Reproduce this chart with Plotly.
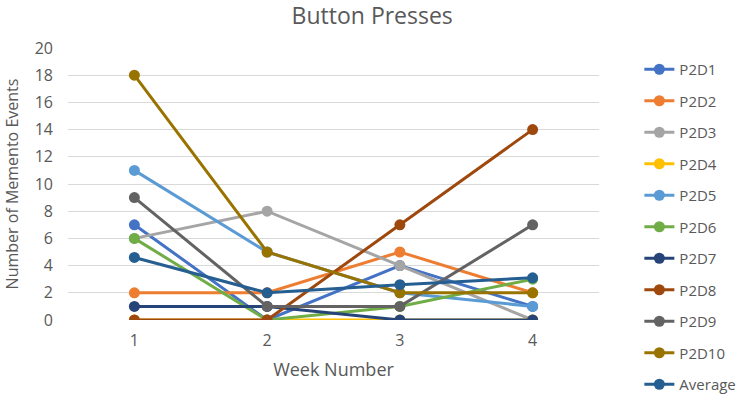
import plotly.graph_objects as go

weeks = [1, 2, 3, 4]
series_names = ["P2D1", "P2D2", "P2D3", "P2D4", "P2D5", "P2D6", "P2D7", "P2D8", "P2D9", "P2D10", "Average"]
p2d1 = [7, 0, 4, 1]
p2d2 = [2, 2, 5, 2]
p2d3 = [6, 8, 4, 0]
p2d4 = [0, 0, 0, 0]
p2d5 = [11, 5, 2, 1]
p2d6 = [6, 0, 1, 3]
p2d7 = [1, 1, 0, 0]
p2d8 = [0, 0, 7, 14]
p2d9 = [9, 1, 1, 7]
p2d10 = [18, 5, 2, 2]
average = [4.6, 2.0, 2.6, 3.1]
series_values = [p2d1, p2d2, p2d3, p2d4, p2d5, p2d6, p2d7, p2d8, p2d9, p2d10, average]
colors = ["#4472C4", "#ED7D31", "#A5A5A5", "#FFC000", "#5B9BD5", "#70AD47",
          "#264478", "#9E480E", "#636363", "#997300", "#255E91"]
y_ticks = [0, 2, 4, 6, 8, 10, 12, 14, 16, 18, 20]

FONT = "Open Sans, sans-serif"
fig = go.Figure()
for name, vals, col in zip(series_names, series_values, colors):
    fig.add_trace(go.Scatter(
        x=weeks, y=vals, name=name, mode="lines+markers",
        line=dict(color=col, width=3),
        marker=dict(color=col, size=11),
        legendgroup=name,
    ))

fig.update_layout(
    width=752, height=400,
    margin=dict(l=68, r=153, t=48, b=80, autoexpand=False),
    paper_bgcolor="white", plot_bgcolor="white",
    font=dict(family=FONT, color="#595959", size=15),
    title=dict(text="Button Presses", x=0.495, xref="container", xanchor="center",
               y=1 - 8 / 400, yref="container", yanchor="top",
               font=dict(size=23, color="#595959")),
    xaxis=dict(range=[0.5, 4.5], tickvals=weeks, ticktext=[str(w) for w in weeks],
               showgrid=False, zeroline=False, showline=False,
               ticklabelstandoff=9,
               title=dict(text="Week Number", font=dict(size=18), standoff=13),
               tickfont=dict(size=16)),
    yaxis=dict(range=[0, 20], tickvals=y_ticks, showgrid=True, gridcolor="#D9D9D9",
               zeroline=False, showline=False, ticks="", ticklen=0,
               ticklabelstandoff=14,
               title=dict(text="Number of Memento Events", font=dict(size=16), standoff=12),
               tickfont=dict(size=16)),
    legend=dict(x=1.076, xanchor="left", y=1 - 53 / 400, yanchor="top", yref="container",
                font=dict(size=15, color="#595959"), tracegroupgap=9,
                itemwidth=30, bgcolor="rgba(0,0,0,0)", maxheight=1),
    showlegend=True,
)
fig.update_xaxes(automargin=False)
fig.update_yaxes(automargin=False)
fig.write_html("out.html", config={"displayModeBar": False},
               post_script="document.body.style.margin='0px';")
